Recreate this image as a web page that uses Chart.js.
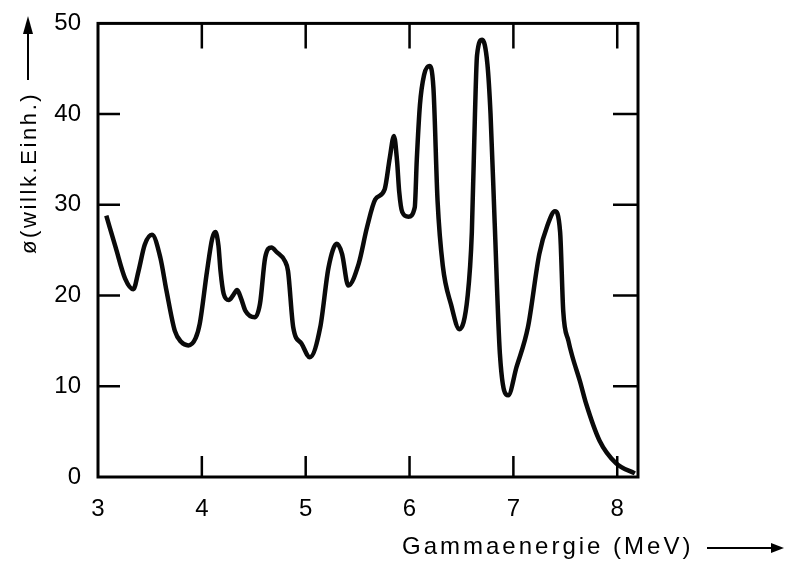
<!DOCTYPE html>
<html>
<head>
<meta charset="utf-8">
<script src="https://cdn.jsdelivr.net/npm/chart.js@4/dist/chart.umd.min.js"></script>
<style>
  html, body { margin: 0; padding: 0; background: #fff; }
  canvas { display: block; }
</style>
</head>
<body>
<canvas id="spektrum" width="785" height="565"></canvas>
<script>
// Gammaenergie in MeV und Fluss in willkürlichen Einheiten
const energie = [3.08, 3.17, 3.26, 3.34, 3.39, 3.45, 3.52, 3.60, 3.66, 3.74, 3.80, 3.87, 3.94, 3.98, 4.05, 4.10, 4.13, 4.16, 4.18, 4.21,
  4.26, 4.30, 4.34, 4.38, 4.42, 4.51, 4.56, 4.61, 4.67, 4.72, 4.80, 4.83, 4.88, 4.96, 5.04, 5.14, 5.22, 5.30, 5.35, 5.41,
  5.51, 5.59, 5.67, 5.76, 5.81, 5.85, 5.88, 5.90, 5.93, 5.99, 6.05, 6.07, 6.10, 6.14, 6.19, 6.23, 6.27, 6.32, 6.40, 6.48,
  6.56, 6.60, 6.63, 6.65, 6.70, 6.75, 6.78, 6.82, 6.87, 6.95, 7.03, 7.14, 7.25, 7.33, 7.40, 7.45, 7.48, 7.53, 7.57, 7.64,
  7.70, 7.83, 7.99, 8.17];
const fluss = [28.8, 25.3, 21.9, 20.7, 22.7, 25.6, 26.7, 24.2, 20.5, 16.1, 14.9, 14.5, 15.3, 16.9, 22.7, 26.3, 27.0, 25.5, 22.7, 20.2,
  19.5, 20.0, 20.6, 19.6, 18.3, 17.6, 19.1, 24.2, 25.3, 24.8, 23.8, 22.7, 16.5, 14.7, 13.2, 16.5, 23.1, 25.7, 24.6, 21.1,
  23.5, 27.5, 30.6, 31.7, 35.2, 37.6, 34.8, 31.5, 29.2, 28.7, 29.7, 35.0, 41.0, 44.3, 45.3, 42.9, 30.4, 23.3, 19.0, 16.3,
  20.0, 27.0, 40.0, 46.5, 48.2, 45.5, 40.0, 28.0, 13.6, 9.0, 12.1, 16.5, 24.6, 27.8, 29.3, 27.0, 18.3, 15.0, 13.2, 10.6,
  8.1, 4.0, 1.5, 0.4];

const xTicks = [3, 4, 5, 6, 7, 8];
const yTicks = [0, 10, 20, 30, 40, 50];

const xTitel = 'Gammaenergie (MeV)';
const yTitel = 'ø(willk.Einh.)';

const schrift = '"Liberation Sans", Arial, sans-serif';

// Rahmen mit nach innen zeigenden Teilstrichen und Achsentitel mit Pfeilen
const rahmenPlugin = {
  id: 'rahmen',
  afterDraw(chart) {
    const ctx = chart.ctx;
    const a = chart.chartArea;
    const xs = chart.scales.x;
    const ys = chart.scales.y;
    ctx.save();
    ctx.strokeStyle = '#000';
    ctx.fillStyle = '#000';

    ctx.lineWidth = 3;
    ctx.strokeRect(a.left, a.top, a.right - a.left, a.bottom - a.top);

    ctx.lineWidth = 2.5;
    ctx.beginPath();
    xTicks.slice(1).forEach(v => {
      const px = xs.getPixelForValue(v);
      ctx.moveTo(px, a.bottom); ctx.lineTo(px, a.bottom - 21);
      ctx.moveTo(px, a.top); ctx.lineTo(px, a.top + 25);
    });
    yTicks.slice(1, -1).forEach(v => {
      const py = ys.getPixelForValue(v);
      ctx.moveTo(a.left, py); ctx.lineTo(a.left + 22, py);
      ctx.moveTo(a.right, py); ctx.lineTo(a.right - 25, py);
    });
    ctx.stroke();

    // x-Titel
    ctx.font = '24px ' + schrift;
    ctx.letterSpacing = '3px';
    ctx.textAlign = 'left';
    ctx.textBaseline = 'alphabetic';
    ctx.fillText(xTitel, 402, 554);
    ctx.lineWidth = 2;
    ctx.beginPath();
    ctx.moveTo(707, 548); ctx.lineTo(775, 548);
    ctx.stroke();
    ctx.beginPath();
    ctx.moveTo(784, 548); ctx.lineTo(771, 543); ctx.lineTo(771, 553); ctx.closePath();
    ctx.fill();

    // y-Titel, gedreht
    ctx.save();
    ctx.translate(36, 254);
    ctx.rotate(-Math.PI / 2);
    ctx.font = '22px ' + schrift;
    ctx.letterSpacing = '2.6px';
    ctx.fillText(yTitel, 0, 0);
    ctx.restore();
    ctx.beginPath();
    ctx.moveTo(28, 80); ctx.lineTo(28, 30);
    ctx.stroke();
    ctx.beginPath();
    ctx.moveTo(28, 16); ctx.lineTo(23, 34); ctx.lineTo(33, 34); ctx.closePath();
    ctx.fill();

    ctx.restore();
  }
};

const ctx = document.getElementById('spektrum').getContext('2d');
new Chart(ctx, {
  type: 'line',
  data: {
    datasets: [{
      data: energie.map((e, i) => ({ x: e, y: fluss[i] })),
      borderColor: '#0a0a0a',
      borderWidth: 4.5,
      pointRadius: 0,
      cubicInterpolationMode: 'monotone',
      fill: false
    }]
  },
  options: {
    responsive: false,
    animation: false,
    layout: { padding: { left: 0, top: 22, right: 147, bottom: 0 } },
    plugins: { legend: { display: false }, tooltip: { enabled: false } },
    scales: {
      x: {
        type: 'linear',
        min: 3,
        max: 8.2,
        afterBuildTicks: s => { s.ticks = xTicks.map(v => ({ value: v })); },
        afterFit: s => { s.height = 88; },
        grid: { display: false },
        border: { display: false },
        ticks: { color: '#000', padding: 10, maxRotation: 0, font: { family: schrift, size: 24 } }
      },
      y: {
        min: 0,
        max: 50,
        afterBuildTicks: s => { s.ticks = yTicks.map(v => ({ value: v })); },
        afterFit: s => { s.width = 98; },
        grid: { display: false },
        border: { display: false },
        ticks: { color: '#000', padding: 9, font: { family: schrift, size: 24 } }
      }
    }
  },
  plugins: [rahmenPlugin]
});
</script>
</body>
</html>
